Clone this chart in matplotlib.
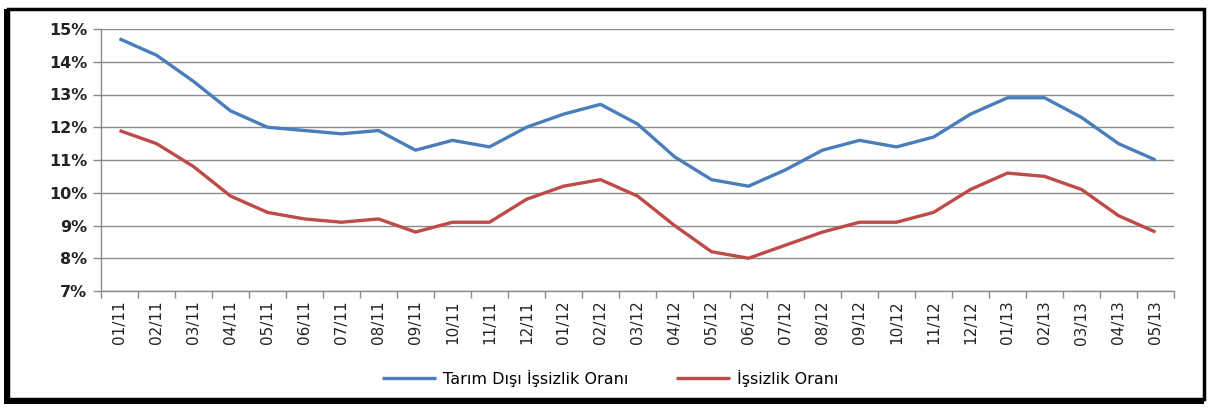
import matplotlib
matplotlib.use("Agg")
import matplotlib.pyplot as plt
from matplotlib.patches import Rectangle
from matplotlib.ticker import FixedLocator, FuncFormatter
import numpy as np

months = ["01/11","02/11","03/11","04/11","05/11","06/11","07/11","08/11","09/11","10/11","11/11","12/11",
          "01/12","02/12","03/12","04/12","05/12","06/12","07/12","08/12","09/12","10/12","11/12","12/12",
          "01/13","02/13","03/13","04/13","05/13"]
tarim_disi = [14.7,14.2,13.4,12.5,12.0,11.9,11.8,11.9,11.3,11.6,11.4,12.0,
              12.4,12.7,12.1,11.1,10.4,10.2,10.7,11.3,11.6,11.4,11.7,12.4,
              12.9,12.9,12.3,11.5,11.0]
issizlik = [11.9,11.5,10.8,9.9,9.4,9.2,9.1,9.2,8.8,9.1,9.1,9.8,
            10.2,10.4,9.9,9.0,8.2,8.0,8.4,8.8,9.1,9.1,9.4,10.1,
            10.6,10.5,10.1,9.3,8.8]
series_names = ["Tarım Dışı İşsizlik Oranı", "İşsizlik Oranı"]
yticks = [7, 8, 9, 10, 11, 12, 13, 14, 15]

W, H = 1211, 408
fig = plt.figure(figsize=(W/100, H/100), dpi=100)
fig.patch.set_facecolor("white")
ax = fig.add_axes([101/W, 1-291/H, (1174-101)/W, (291-29)/H])

x = np.arange(len(months))
blue = "#4A7EBB"
red = "#BE4B48"
ax.plot(x, tarim_disi, color=blue, lw=2.4, label=series_names[0], solid_capstyle="butt", zorder=3)
ax.plot(x, issizlik, color=red, lw=2.4, label=series_names[1], solid_capstyle="butt", zorder=3)

ax.set_xlim(-0.5, len(months)-0.5)
ax.set_ylim(7, 15)
ax.set_yticks(yticks)
ax.yaxis.set_major_formatter(FuncFormatter(lambda v, p: f"{int(v)}%"))
ax.grid(axis="y", color="#8C8C8C", lw=1.0, zorder=1)

ax.set_xticks(x)
ax.set_xticklabels(months, rotation=90, fontsize=11, color="#222222")
ax.xaxis.set_minor_locator(FixedLocator(np.arange(-0.5, len(months), 1.0)))
ax.tick_params(axis="x", which="major", length=0, pad=7)
ax.tick_params(axis="x", which="minor", length=5, color="#8C8C8C", width=1)
ax.tick_params(axis="y", length=6, color="#8C8C8C", width=1, labelsize=11.5, pad=4)
for lab in ax.get_yticklabels():
    lab.set_fontweight("bold")
    lab.set_color("#222222")

for s in ["top", "right"]:
    ax.spines[s].set_visible(False)
for s in ["left", "bottom"]:
    ax.spines[s].set_color("#8C8C8C")
    ax.spines[s].set_linewidth(1)

leg = fig.legend(loc="center", bbox_to_anchor=(610/W, 1-378/H), ncol=2, frameon=False,
                 fontsize=11.5, handlelength=3.4, columnspacing=3.0, handletextpad=0.4)

# outer frame with shadow
fig.patches.append(Rectangle((8/W, 9/H), (1204-8)/W, (399-9)/H, transform=fig.transFigure,
                             fill=False, edgecolor="black", lw=2.5))
fig.patches.append(Rectangle((4/W, 6/H), 4/W, (399-6)/H, transform=fig.transFigure,
                             facecolor="black", edgecolor="none"))
fig.patches.append(Rectangle((4/W, 4/H), (1204-4)/W, 5/H, transform=fig.transFigure,
                             facecolor="black", edgecolor="none"))

fig.savefig("out.png", dpi=100)
